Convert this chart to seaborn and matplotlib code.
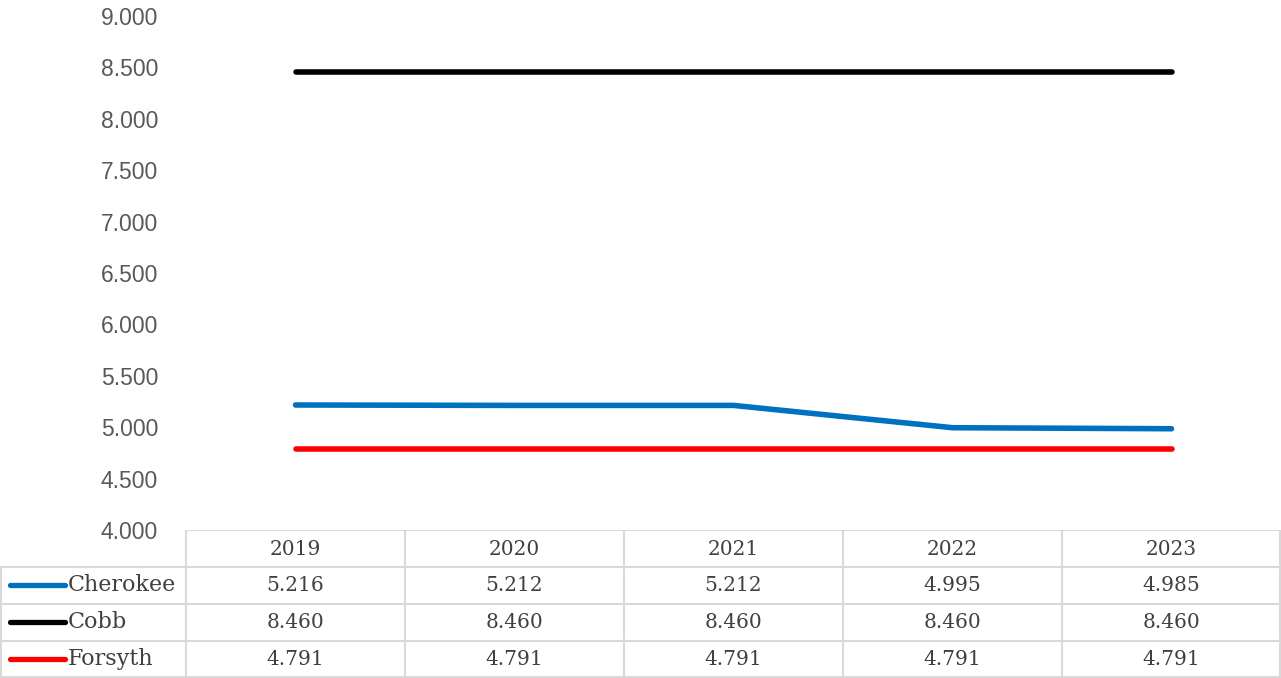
import matplotlib
matplotlib.use("Agg")
import matplotlib.pyplot as plt
import seaborn as sns
import pandas as pd
from matplotlib.lines import Line2D

years = ["2019", "2020", "2021", "2022", "2023"]
series_names = ["Cherokee", "Cobb", "Forsyth"]
cherokee = [5.216, 5.212, 5.212, 4.995, 4.985]
cobb = [8.460, 8.460, 8.460, 8.460, 8.460]
forsyth = [4.791, 4.791, 4.791, 4.791, 4.791]
colors = ["#0070C0", "#000000", "#FF0000"]
yticks = [4.0, 4.5, 5.0, 5.5, 6.0, 6.5, 7.0, 7.5, 8.0, 8.5, 9.0]

values = [cherokee, cobb, forsyth]
rows = []
for name, vals in zip(series_names, values):
    for i, (yr, v) in enumerate(zip(years, vals)):
        rows.append({"series": name, "year": yr, "pos": i, "value": v})
df = pd.DataFrame(rows)

sns.set_theme(style="white")
plt.rcParams['font.family'] = ['Liberation Sans', 'DejaVu Sans']

W, H = 1281, 678
fig = plt.figure(figsize=(W / 100, H / 100), dpi=100)
ax_left, ax_right = 186, 1281
ax_top, ax_bot = 16, 530
ax = fig.add_axes([ax_left / W, 1 - ax_bot / H, (ax_right - ax_left) / W, (ax_bot - ax_top) / H])

sns.lineplot(data=df, x="pos", y="value", hue="series", palette=colors,
             hue_order=series_names, ax=ax, linewidth=4.0, legend=False)
for ln in ax.get_lines():
    ln.set_solid_capstyle("round")

ax.set_xlim(-0.5, len(years) - 0.5)
ax.set_ylim(4.0, 9.0)
ax.set_yticks(yticks)
ax.set_yticklabels([f"{t:.3f}" for t in yticks], color="#595959", fontsize=16.5)
ax.set_xticks([])
ax.set_xlabel("")
ax.set_ylabel("")
ax.tick_params(axis="y", length=0, pad=20)
for s in ax.spines.values():
    s.set_visible(False)

# Data table
grid = "#D9D9D9"
tfont = ['DejaVu Serif']
tax = fig.add_axes([0, 0, 1, (H - ax_bot) / H])
tax.set_xlim(0, W)
tax.set_ylim(H, ax_bot)
tax.axis("off")
col_w = (ax_right - ax_left) / len(years)
row_h = (H - ax_bot) / 4
nrows = len(series_names) + 1
for r in range(nrows + 1):
    y = ax_bot + r * row_h
    if r == nrows:
        y = H - 1
    x0 = ax_left if r == 0 else 0
    tax.add_line(Line2D([x0, W - 1], [y, y], color=grid, lw=1.5))
tax.add_line(Line2D([1, 1], [ax_bot + row_h, H], color=grid, lw=1.5))
for c in range(len(years) + 1):
    x = ax_left + c * col_w
    if c == len(years):
        x = W - 1
    tax.add_line(Line2D([x, x], [ax_bot, H], color=grid, lw=1.5))
for c, yr in enumerate(years):
    tax.text(ax_left + (c + 0.5) * col_w, ax_bot + 0.5 * row_h + 1, yr, ha="center", va="center",
             fontsize=14.5, color="#404040", family=tfont)
for r, (name, vals, col) in enumerate(zip(series_names, values, colors)):
    yc = ax_bot + (r + 1.5) * row_h
    tax.add_line(Line2D([10, 65], [yc, yc], color=col, lw=3.8, solid_capstyle="round"))
    tax.text(68, yc, name, ha="left", va="center", fontsize=16, color="#404040", family=tfont)
    for c, v in enumerate(vals):
        tax.text(ax_left + (c + 0.5) * col_w, yc, f"{v:.3f}", ha="center", va="center",
                 fontsize=14.5, color="#404040", family=tfont)

fig.savefig("out.png", dpi=100, facecolor="white")
